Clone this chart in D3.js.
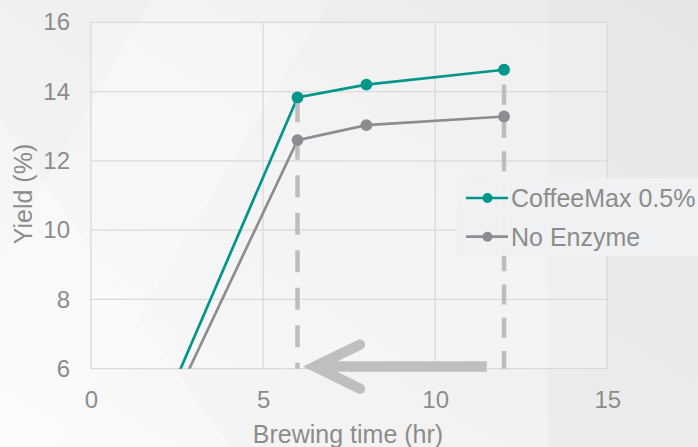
<!DOCTYPE html>
<html>
<head>
<meta charset="utf-8">
<script src="https://cdn.jsdelivr.net/npm/d3@7"></script>
<style>
  html, body { margin: 0; padding: 0; background: #f2f2f2; }
  svg { display: block; }
  text { font-family: "Liberation Sans", Arial, sans-serif; fill: #8c8c8c; }
</style>
</head>
<body>
<svg id="chart" width="698" height="447"></svg>
<script>
// ---- data ----
const times = [0, 6, 8, 12];
const coffeeMax = [0, 13.83, 14.2, 14.63];
const noEnzyme = [0, 12.6, 13.03, 13.28];
const seriesNames = ["CoffeeMax 0.5%", "No Enzyme"];
const xTicks = [0, 5, 10, 15];
const yTicks = [6, 8, 10, 12, 14, 16];
const dropTimes = [6, 12];
const dropTops = [13.75, 14.2];
const arrowFrom = 11.5, arrowTo = 6.33, arrowLevel = 6.06;

const W = 698, H = 447;
const svg = d3.select("#chart");
const defs = svg.append("defs");

// background
const bg = defs.append("linearGradient").attr("id", "bg")
  .attr("x1", "100%").attr("y1", "0%").attr("x2", "0%").attr("y2", "100%");
bg.append("stop").attr("offset", "0%").attr("stop-color", "#e9e9e9");
bg.append("stop").attr("offset", "55%").attr("stop-color", "#f1f1f1");
bg.append("stop").attr("offset", "100%").attr("stop-color", "#f7f7f7");
svg.append("rect").attr("width", W).attr("height", H).attr("fill", "url(#bg)");
svg.append("path").attr("d", "M150,0 L330,0 L60,447 L0,447 L0,260 Z")
  .attr("fill", "#ffffff").attr("opacity", 0.25);
svg.append("path").attr("d", "M0,120 L230,447 L0,447 Z")
  .attr("fill", "#ffffff").attr("opacity", 0.3);
svg.append("path").attr("d", "M548,0 L698,0 L698,447 L548,447 Z")
  .attr("fill", "#e2e2e2").attr("opacity", 0.35);

const x = d3.scaleLinear().domain([0, 15]).range([91, 607.3]);
const y = d3.scaleLinear().domain([6, 16]).range([368.7, 22.3]);

// plot area fill
svg.append("rect").attr("x", x(0)).attr("y", y(16))
  .attr("width", x(15) - x(0)).attr("height", y(6) - y(16))
  .attr("fill", "#ffffff").attr("opacity", 0.25);

// grid
const grid = svg.append("g");
grid.selectAll("line.h").data(yTicks).join("line")
  .attr("x1", x(0)).attr("x2", x(15))
  .attr("y1", d => y(d)).attr("y2", d => y(d))
  .attr("stroke", "#dadada").attr("stroke-width", 1.3);
grid.selectAll("line.v").data(xTicks).join("line")
  .attr("y1", y(6)).attr("y2", y(16))
  .attr("x1", d => x(d)).attr("x2", d => x(d))
  .attr("stroke", "#dadada").attr("stroke-width", 1.3);

// axes labels via d3 axes
const xAxis = svg.append("g").attr("transform", `translate(0,${y(6)})`)
  .call(d3.axisBottom(x).tickValues(xTicks).tickSize(0).tickPadding(22));
const yAxis = svg.append("g").attr("transform", `translate(${x(0)},0)`)
  .call(d3.axisLeft(y).tickValues(yTicks).tickSize(0).tickPadding(21));
[xAxis, yAxis].forEach(a => {
  a.select(".domain").remove();
  a.selectAll("text").attr("font-size", 24).attr("font-family", null).attr("fill", "#8c8c8c");
});
xAxis.selectAll("text").attr("dy", "0.71em");

svg.append("text").attr("x", 348).attr("y", 443).attr("text-anchor", "middle")
  .attr("font-size", 25).text("Brewing time (hr)");
svg.append("text").attr("transform", `translate(32,${194}) rotate(-90)`)
  .attr("text-anchor", "middle").attr("font-size", 25).text("Yield (%)");

// clip
defs.append("clipPath").attr("id", "plotclip").append("rect")
  .attr("x", x(0)).attr("y", 0).attr("width", x(15) - x(0) + 10).attr("height", y(6));

const colors = ["#00968a", "#8d8d91"];
const series = [coffeeMax, noEnzyme];
const line = d3.line().x((d, i) => x(times[i])).y(d => y(d));

const lg = svg.append("g").attr("clip-path", "url(#plotclip)");
series.forEach((s, k) => {
  lg.append("path").datum(s).attr("d", line).attr("fill", "none")
    .attr("stroke", colors[k]).attr("stroke-width", 2.7);
});

// dashed drop lines
const dashes = [["22", "15.5"], ["20", "13.3"]];
dropTimes.forEach((t, i) => {
  svg.append("line").attr("x1", x(t)).attr("x2", x(t))
    .attr("y1", y(dropTops[i])).attr("y2", y(6))
    .attr("stroke", "#bdbdbd").attr("stroke-width", 4.5)
    .attr("stroke-dasharray", dashes[i].join(","));
});

// markers
series.forEach((s, k) => {
  svg.append("g").selectAll("circle").data(s.slice(1)).join("circle")
    .attr("cx", (d, i) => x(times[i + 1])).attr("cy", d => y(d))
    .attr("r", 5.9).attr("fill", colors[k]);
});

// arrow
const ay = y(arrowLevel);
svg.append("line").attr("x1", x(arrowFrom)).attr("x2", x(arrowTo) + 6)
  .attr("y1", ay).attr("y2", ay).attr("stroke", "#bfbfbf").attr("stroke-width", 10.5);
svg.append("polyline")
  .attr("points", `${x(arrowTo) + 51},${ay - 22} ${x(arrowTo) + 6},${ay} ${x(arrowTo) + 51},${ay + 22}`)
  .attr("fill", "none").attr("stroke", "#bfbfbf").attr("stroke-width", 10.5)
  .attr("stroke-linecap", "round").attr("stroke-linejoin", "miter").attr("stroke-miterlimit", 10);

// legend
const leg = svg.append("g");
leg.append("rect").attr("x", 457).attr("y", 178).attr("width", 241).attr("height", 78)
  .attr("fill", "#f0f1f2").attr("opacity", 0.97);
seriesNames.forEach((n, i) => {
  const cy = 198 + i * 38.7;
  leg.append("line").attr("x1", 466).attr("x2", 508).attr("y1", cy).attr("y2", cy)
    .attr("stroke", colors[i]).attr("stroke-width", 2.7);
  leg.append("circle").attr("cx", 487.5).attr("cy", cy).attr("r", 5).attr("fill", colors[i]);
  leg.append("text").attr("x", 511).attr("y", cy + 9).attr("font-size", 25).text(n);
});
</script>
</body>
</html>
